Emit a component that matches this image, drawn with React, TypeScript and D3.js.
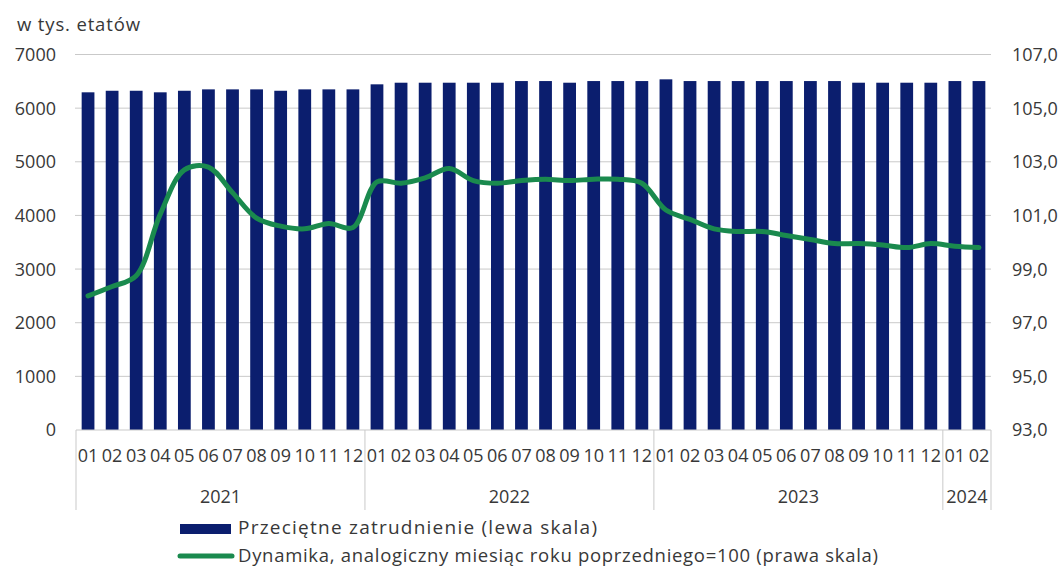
import * as d3 from 'd3';

// months 2021-01 .. 2024-02
const years = ['2021', '2022', '2023', '2024'];
const monthsPerYear = [12, 12, 12, 2];

// przeciętne zatrudnienie, tys. etatów (lewa skala)
const employment = [
  6295, 6324, 6324, 6295, 6324, 6350, 6350, 6350, 6324, 6350, 6350, 6350,
  6444, 6474, 6474, 6474, 6474, 6474, 6505, 6505, 6474, 6505, 6505, 6505,
  6537, 6505, 6505, 6505, 6505, 6505, 6505, 6505, 6474, 6474, 6474, 6474,
  6505, 6505,
];

// dynamika r/r, analogiczny miesiąc roku poprzedniego = 100 (prawa skala)
const dynamics = [
  98.0, 98.35, 98.75, 101.05, 102.7, 102.8, 101.85, 100.9, 100.6, 100.5, 100.7, 100.55,
  102.25, 102.2, 102.4, 102.75, 102.3, 102.2, 102.3, 102.35, 102.3, 102.35, 102.35, 102.2,
  101.2, 100.85, 100.5, 100.4, 100.4, 100.25, 100.1, 99.95, 99.95, 99.9, 99.8, 99.95,
  99.85, 99.8,
];

const leftTicks = [0, 1000, 2000, 3000, 4000, 5000, 6000, 7000];
const rightTicks = [93, 95, 97, 99, 101, 103, 105, 107];

const unitLabel = 'w tys. etatów';
const legendBars = 'Przeciętne zatrudnienie (lewa skala)';
const legendLine = 'Dynamika, analogiczny miesiąc roku poprzedniego=100 (prawa skala)';

const W = 1062;
const H = 568;
const plot = { left: 76, right: 991, top: 54.5, bottom: 430 };
const FONT = '"Open Sans", "Noto Sans", sans-serif';
const TEXT = '#383838';
const BAR = '#0b1e6e';
const LINE = '#1a8a4e';
const GRID = '#c9c9c9';

const cats: { key: string; month: string; year: string }[] = [];
years.forEach((y, yi) => {
  for (let m = 1; m <= monthsPerYear[yi]; m++) {
    cats.push({ key: `${y}-${m}`, month: String(m).padStart(2, '0'), year: y });
  }
});

export default function App() {
  const x = d3.scaleBand<string>()
    .domain(cats.map(c => c.key))
    .range([plot.left, plot.right])
    .paddingInner(0.47)
    .paddingOuter(0.235);
  const yL = d3.scaleLinear().domain([0, 7000]).range([plot.bottom, plot.top]);
  const yR = d3.scaleLinear().domain([93, 107]).range([plot.bottom, plot.top]);
  const half = x.bandwidth() / 2;
  const gap = (x.step() - x.bandwidth()) / 2;

  const line = d3.line<number>()
    .x((_, i) => x(cats[i].key)! + half)
    .y(d => yR(d))
    .curve(d3.curveCatmullRom.alpha(0.5));

  // year group boundaries
  const groups: { year: string; x0: number; x1: number }[] = [];
  let idx = 0;
  years.forEach((y, yi) => {
    const first = cats[idx];
    const last = cats[idx + monthsPerYear[yi] - 1];
    groups.push({
      year: y,
      x0: x(first.key)! - gap,
      x1: x(last.key)! + x.bandwidth() + gap,
    });
    idx += monthsPerYear[yi];
  });

  return (
    <svg width={W} height={H} style={{ position: 'absolute', left: 0, top: 0, background: '#fff' }}
      fontFamily={FONT}>
      <text x={17} y={31} fontSize={18.5} fill={TEXT} textLength={123} lengthAdjust="spacing">{unitLabel}</text>

      {/* grid */}
      {leftTicks.filter(t => t > 0).map(t => (
        <line key={t} x1={plot.left - 1} x2={plot.right} y1={yL(t)} y2={yL(t)} stroke={GRID} strokeWidth={1} />
      ))}

      {/* bars */}
      {employment.map((v, i) => (
        <rect key={i} x={x(cats[i].key)} y={yL(v)} width={x.bandwidth()} height={yL(0) - yL(v)} fill={BAR} />
      ))}

      {/* category axis */}
      <line x1={plot.left} x2={plot.right} y1={plot.bottom} y2={plot.bottom} stroke={GRID} strokeWidth={1} />
      {groups.map(g => (
        <g key={g.year}>
          <line x1={g.x0} x2={g.x0} y1={plot.bottom} y2={510} stroke={GRID} strokeWidth={1} />
          <text x={(g.x0 + g.x1) / 2} y={503} fontSize={18} fill={TEXT} textAnchor="middle">{g.year}</text>
        </g>
      ))}
      <line x1={plot.right} x2={plot.right} y1={plot.bottom} y2={510} stroke={GRID} strokeWidth={1} />
      {cats.map(c => (
        <text key={c.key} x={x(c.key)! + half} y={462} fontSize={18} fill={TEXT} textAnchor="middle">{c.month}</text>
      ))}

      {/* line */}
      <path d={line(dynamics) ?? ''} fill="none" stroke={LINE} strokeWidth={5} strokeLinejoin="round" strokeLinecap="round" />

      {/* left axis labels */}
      {leftTicks.map(t => (
        <text key={t} x={56} y={yL(t)} dy="0.36em" fontSize={18} fill={TEXT} textAnchor="end">{t}</text>
      ))}
      {/* right axis labels */}
      {rightTicks.map(t => (
        <text key={t} x={1012} y={yR(t)} dy="0.36em" fontSize={18} fill={TEXT}>{t.toFixed(1).replace('.', ',')}</text>
      ))}

      {/* legend */}
      <rect x={180} y={524} width={51} height={10} fill={BAR} />
      <text x={238} y={534} fontSize={19} fill={TEXT} textLength={359} lengthAdjust="spacing">{legendBars}</text>
      <line x1={180} x2={232} y1={556} y2={556} stroke={LINE} strokeWidth={5} strokeLinecap="round" />
      <text x={238} y={562} fontSize={18.5} fill={TEXT} textLength={640} lengthAdjust="spacing">{legendLine}</text>
    </svg>
  );
}
